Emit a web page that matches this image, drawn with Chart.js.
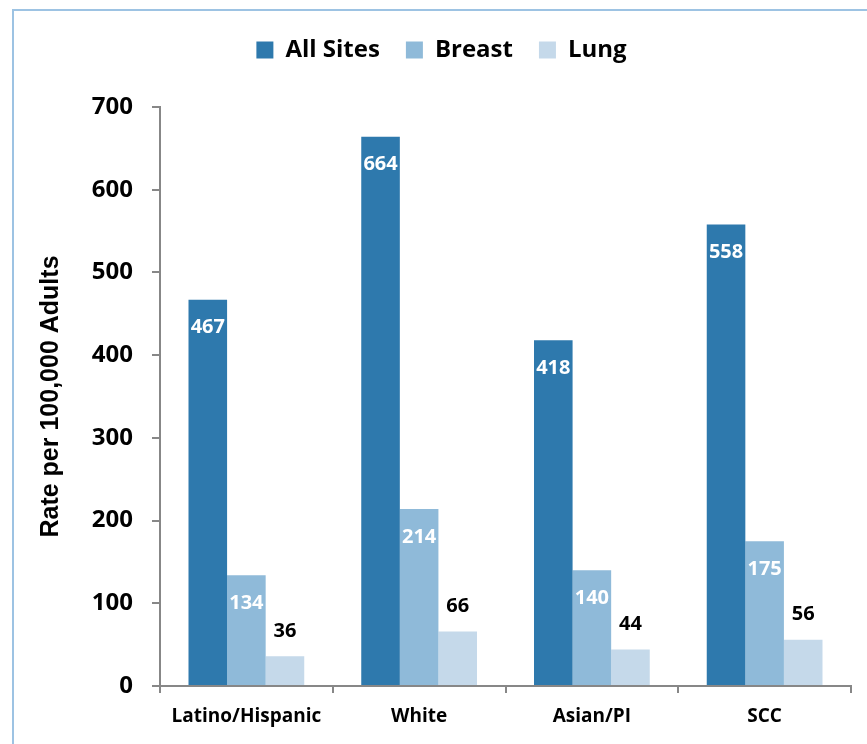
<!DOCTYPE html>
<html>
<head>
<meta charset="utf-8">
<script src="https://cdn.jsdelivr.net/npm/chart.js@4/dist/chart.umd.min.js"></script>
<style>
  html, body { margin: 0; padding: 0; background: #fff; overflow: hidden; }
  #wrap { position: relative; width: 867px; height: 744px; }
  #frame {
    position: absolute; left: 12px; top: 9px; width: 900px; height: 800px;
    border: 2px solid #9dc3e3; pointer-events: none;
  }
</style>
</head>
<body>
<div id="wrap">
  <canvas id="chart" width="867" height="744"></canvas>
  <div id="frame"></div>
</div>
<script>
const categories = ["Latino/Hispanic", "White", "Asian/PI", "SCC"];
const allSites = [467, 664, 418, 558];
const breast = [134, 214, 140, 175];
const lung = [36, 66, 44, 56];
const yTicks = [0, 100, 200, 300, 400, 500, 600, 700];

const seriesColors = ["#2e79ad", "#8fbad9", "#c5d9ea"];
const fontFamily = "'Open Sans'";

// labels: first two series inside the bar top in white, lung above in black
const labelStyle = [
  { color: "#ffffff", offset: 28 },
  { color: "#ffffff", offset: 28 },
  { color: "#000000", offset: -25 },
];

const barLabels = {
  id: "barLabels",
  afterDatasetsDraw(chart) {
    const ctx = chart.ctx;
    ctx.save();
    ctx.font = "bold 20px " + fontFamily;
    ctx.textAlign = "center";
    ctx.textBaseline = "middle";
    chart.data.datasets.forEach((ds, i) => {
      const meta = chart.getDatasetMeta(i);
      ctx.fillStyle = labelStyle[i].color;
      meta.data.forEach((bar, j) => {
        ctx.fillText(String(ds.data[j]), bar.x, bar.y + labelStyle[i].offset);
      });
    });
    ctx.restore();
  },
};

const legendHeight = {
  id: "legendHeight",
  afterInit(chart) {
    const legend = chart.legend;
    const fit = legend.fit;
    legend.fit = function () {
      fit.call(this);
      this.height = 95;
    };
  },
};

new Chart(document.getElementById("chart").getContext("2d"), {
  type: "bar",
  data: {
    labels: categories,
    datasets: [
      { label: "All Sites", data: allSites, backgroundColor: seriesColors[0] },
      { label: "Breast", data: breast, backgroundColor: seriesColors[1] },
      { label: "Lung", data: lung, backgroundColor: seriesColors[2] },
    ],
  },
  options: {
    responsive: false,
    animation: false,
    layout: { padding: { left: 32, right: 16, top: 12, bottom: 0 } },
    datasets: {
      bar: { categoryPercentage: 0.67, barPercentage: 1.0 },
    },
    plugins: {
      tooltip: { enabled: false },
      legend: {
        position: "top",
        labels: {
          font: { family: fontFamily, size: 24, weight: "bold" },
          color: "#000",
          boxWidth: 17,
          boxHeight: 17,
          padding: 26,
        },
      },
    },
    scales: {
      x: {
        grid: {
          drawOnChartArea: false,
          drawTicks: true,
          tickLength: 7,
          color: "#878787",
          lineWidth: 2,
        },
        border: { color: "#878787", width: 2 },
        ticks: {
          color: "#000",
          font: { family: fontFamily, size: 19, weight: "bold" },
          padding: 12,
        },
        afterFit(scale) { scale.height = 58; },
      },
      y: {
        min: 0,
        max: 700,
        afterBuildTicks(scale) { scale.ticks = yTicks.map((v) => ({ value: v })); },
        grid: {
          drawOnChartArea: false,
          drawTicks: true,
          tickLength: 8,
          color: "#878787",
          lineWidth: 2,
        },
        border: { color: "#878787", width: 2 },
        ticks: {
          color: "#000",
          font: { family: fontFamily, size: 24, weight: "bold" },
          padding: 19,
        },
        title: {
          display: true,
          text: "Rate per 100,000 Adults",
          color: "#000",
          font: { family: "Liberation Sans", size: 25, weight: "bold" },
          padding: { top: 4, bottom: 4 },
        },
        afterFit(scale) { scale.width = 128; },
      },
    },
  },
  plugins: [barLabels, legendHeight],
});
</script>
</body>
</html>
